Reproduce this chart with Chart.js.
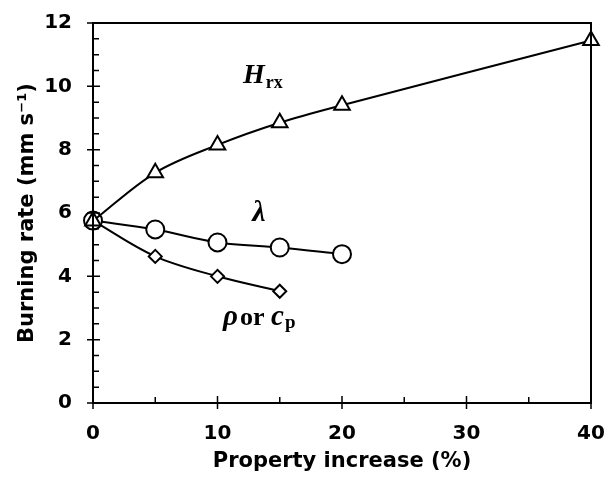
<!DOCTYPE html>
<html>
<head>
<meta charset="utf-8">
<script src="https://cdn.jsdelivr.net/npm/chart.js@4.4.0/dist/chart.umd.min.js"></script>
<style>
  html, body { margin: 0; padding: 0; background: #fff; overflow: hidden; }
</style>
</head>
<body>
<canvas id="chart" width="609" height="477"></canvas>
<script>
// data
const hrxX = [0, 5, 10, 15, 20, 40];
const hrxY = [5.75, 7.27, 8.15, 8.85, 9.4, 11.45];
const lambdaX = [0, 5, 10, 15, 20];
const lambdaY = [5.76, 5.48, 5.07, 4.91, 4.7];
const rhoX = [0, 5, 10, 15];
const rhoY = [5.76, 4.63, 4.0, 3.53];

const xMajor = [0, 10, 20, 30, 40];
const xMinor = [5, 15, 25, 35];
const yMajor = [0, 2, 4, 6, 8, 10, 12];
const yMinor = [0.5, 1, 1.5, 2.5, 3, 3.5, 4.5, 5, 5.5, 6.5, 7, 7.5, 8.5, 9, 9.5, 10.5, 11, 11.5];

const toPts = (xs, ys) => xs.map((x, i) => ({ x: x, y: ys[i] }));

const sans = "'DejaVu Sans', Arial, sans-serif";
const tickFont = { family: sans, size: 20, weight: "bold" };
const titleFont = { family: sans, size: 21, weight: "bold" };

// frame, tick marks and curve labels
const extras = {
  id: "extras",
  afterDatasetsDraw(chart) {
    const ctx = chart.ctx;
    const a = chart.chartArea;
    const xs = chart.scales.x;
    const ys = chart.scales.y;
    ctx.save();
    ctx.strokeStyle = "#000";
    ctx.lineWidth = 2;
    ctx.strokeRect(a.left, a.top, a.right - a.left, a.bottom - a.top);

    ctx.lineWidth = 1.5;
    ctx.beginPath();
    yMajor.forEach(v => {
      const p = ys.getPixelForValue(v);
      ctx.moveTo(a.left - 6, p); ctx.lineTo(a.left + 7, p);
    });
    yMinor.forEach(v => {
      const p = ys.getPixelForValue(v);
      ctx.moveTo(a.left, p); ctx.lineTo(a.left + 6, p);
    });
    xMajor.forEach(v => {
      const p = xs.getPixelForValue(v);
      ctx.moveTo(p, a.bottom + 6); ctx.lineTo(p, a.bottom - 7);
    });
    xMinor.forEach(v => {
      const p = xs.getPixelForValue(v);
      ctx.moveTo(p, a.bottom); ctx.lineTo(p, a.bottom - 6);
    });
    ctx.stroke();

    ctx.fillStyle = "#000";
    ctx.textBaseline = "alphabetic";
    ctx.textAlign = "left";
    const serif = "'Liberation Serif', 'DejaVu Serif', serif";

    // H_rx
    let px = xs.getPixelForValue(12.05);
    let py = ys.getPixelForValue(10.1);
    ctx.font = "italic bold 28px " + serif;
    ctx.fillText("H", px, py);
    px += ctx.measureText("H").width + 1;
    ctx.font = "bold 18px " + serif;
    ctx.fillText("rx", px, py + 5);

    // lambda
    ctx.font = "italic bold 30px " + serif;
    ctx.fillText("\u03bb", xs.getPixelForValue(12.8), ys.getPixelForValue(5.75));

    // rho or c_p
    px = xs.getPixelForValue(10.45);
    py = ys.getPixelForValue(2.46);
    ctx.font = "italic bold 29px " + serif;
    ctx.fillText("\u03c1", px, py);
    px += ctx.measureText("\u03c1").width + 2;
    ctx.font = "bold 26px " + serif;
    ctx.fillText("or", px, py);
    px += ctx.measureText("or ").width;
    ctx.font = "italic bold 29px " + serif;
    ctx.fillText("c", px, py);
    px += ctx.measureText("c").width + 1;
    ctx.font = "bold 19px " + serif;
    ctx.fillText("p", px, py + 3);
    ctx.restore();
  }
};

const common = {
  borderColor: "#000",
  borderWidth: 2,
  backgroundColor: "#fff",
  pointBackgroundColor: "#fff",
  pointBorderColor: "#000",
  pointBorderWidth: 2,
  showLine: true,
  tension: 0.35,
  clip: false
};

new Chart(document.getElementById("chart"), {
  type: "scatter",
  data: {
    datasets: [
      Object.assign({ label: "Hrx", data: toPts(hrxX, hrxY), pointStyle: "triangle", pointRadius: 9 }, common),
      Object.assign({ label: "lambda", data: toPts(lambdaX, lambdaY), pointStyle: "circle", pointRadius: 9 }, common),
      Object.assign({ label: "rho or cp", data: toPts(rhoX, rhoY), pointStyle: "rectRot", pointRadius: 6.5 }, common)
    ]
  },
  options: {
    responsive: false,
    animation: false,
    layout: { padding: { top: 23, right: 18, left: 0, bottom: 0 } },
    plugins: { legend: { display: false }, tooltip: { enabled: false } },
    scales: {
      x: {
        type: "linear",
        min: 0, max: 40,
        grid: { display: false, drawTicks: false },
        border: { display: false },
        ticks: { stepSize: 10, color: "#000", font: tickFont, padding: 19, maxRotation: 0 },
        title: { display: true, text: "Property increase (%)", color: "#000", font: titleFont, padding: { top: 0, bottom: 3 } },
        afterFit: s => { s.height = 74; s.paddingLeft = 0; s.paddingRight = 0; }
      },
      y: {
        min: 0, max: 12,
        grid: { display: false, drawTicks: false },
        border: { display: false },
        ticks: { stepSize: 2, color: "#000", font: tickFont, padding: 21 },
        title: { display: true, text: "Burning rate (mm s\u207b\u00b9)", color: "#000", font: titleFont, padding: { top: 15, bottom: 0 } },
        afterFit: s => { s.width = 93; s.paddingTop = 0; s.paddingBottom = 0; }
      }
    }
  },
  plugins: [extras]
});
</script>
</body>
</html>
